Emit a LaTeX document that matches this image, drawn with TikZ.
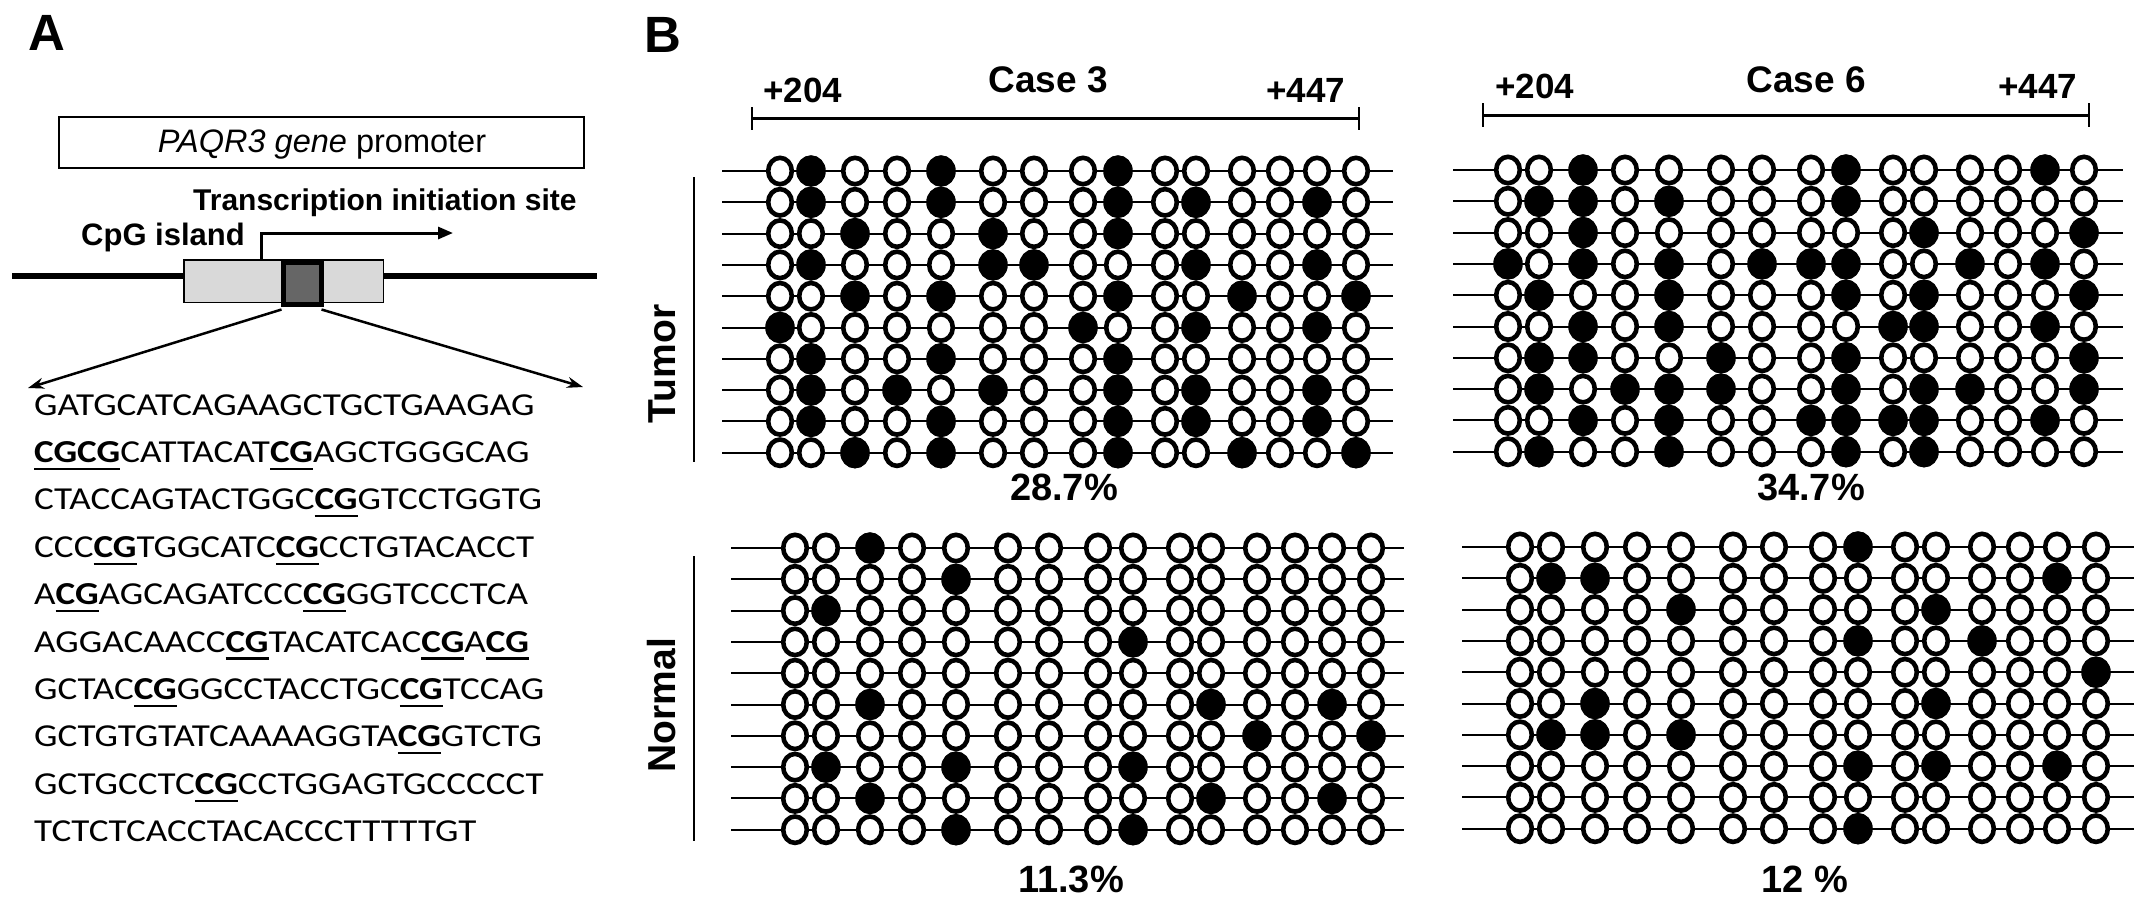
\documentclass[tikz,border=0pt]{standalone}
\usepackage{fontspec}
\setmainfont{Liberation Sans}
\newfontfamily\seqfont[FakeStretch=1.16]{Carlito}
\usetikzlibrary{arrows.meta}

\newcommand\cgu[1]{\setbox0\hbox{\bfseries #1}\rlap{\rule[-7.5pt]{\wd0}{2.2pt}}\box0}
\newcommand\colpos{{0,31,75,117,161,213,254,303,338,385,416,462,500,537,576}}
% #1 x of first column, #2 y of first row, #3 line left, #4 line right, #5 rows
\newcommand\methpanel[5]{%
  \foreach \r/\fl in {#5} {
    \pgfmathsetmacro\yy{#2+31.3*\r}
    \draw[rowline] (#3,\yy) -- (#4,\yy);
    \foreach \c in {0,31,75,117,161,213,254,303,338,385,416,462,500,537,576} {
      \draw[oc] (#1+\c,\yy) ellipse [x radius=11.8pt, y radius=13.2pt];
    }
    \foreach \f in \fl {
      \ifnum\f>0
        \pgfmathsetmacro\cx{\colpos[\f-1]}
        \draw[fc] (#1+\cx,\yy) ellipse [x radius=12.5pt, y radius=13.4pt];
      \fi
    }
  }%
}

\begin{document}
\begin{tikzpicture}[x=1pt,y=-1pt,
  rowline/.style={line width=2pt, draw=black},
  oc/.style={line width=4.6pt, draw=black, fill=white},
  fc/.style={line width=4.6pt, draw=black, fill=black},
  panellab/.style={anchor=base west, inner sep=0pt, font=\bfseries\fontsize{51}{60}\selectfont},
  casetxt/.style={anchor=base, inner sep=0pt, font=\bfseries\fontsize{37}{44}\selectfont},
  postxt/.style={anchor=base west, inner sep=0pt, font=\bfseries\fontsize{35}{42}\selectfont},
  pcttxt/.style={anchor=base, inner sep=0pt, font=\bfseries\fontsize{38}{45}\selectfont},
  grptxt/.style={rotate=90, inner sep=0pt, font=\bfseries\fontsize{39}{46}\selectfont},
  seqtxt/.style={anchor=base west, inner sep=0pt, font=\seqfont\fontsize{32}{38}\selectfont},
  bar/.style={line width=3pt, draw=black},
  tick/.style={line width=2.5pt, draw=black},
  grpline/.style={line width=2.5pt, draw=black},
]
\useasboundingbox (0,0) rectangle (2150,914);
\fill[white] (0,0) rectangle (2150,914);

% ---------------- Panel A ----------------
\node[panellab] (labA) at (28,50) {A};
\node[draw=black, line width=2pt, minimum width=525pt, minimum height=51pt, inner sep=0pt, outer sep=0pt] (promo) at (321.5,142.5) {};
\node[anchor=base, inner sep=0pt, font=\fontsize{32.5}{38}\selectfont] (promotxt) at (322,152) {\textit{PAQR3 gene} promoter};

\node[anchor=base west, inner sep=0pt, font=\bfseries\fontsize{30}{36}\selectfont] (tsstxt) at (193,210) {Transcription initiation site};
\node[anchor=base west, inner sep=0pt, font=\bfseries\fontsize{31}{37}\selectfont] (cpgtxt) at (81,245) {CpG island};

\coordinate (dnaL) at (12,276);
\coordinate (dnaR) at (597,276);
\draw[line width=6pt] (dnaL) -- (dnaR);
\node[draw=black, line width=1.5pt, fill=black!15, minimum width=199.5pt, minimum height=42.5pt, inner sep=0pt, outer sep=0pt] (cpg) at (283.5,281) {};
\node[draw=black, line width=5pt, fill=black!60, minimum width=38pt, minimum height=42pt, inner sep=0pt, outer sep=0pt] (dk) at (302.5,283.5) {};

\coordinate (tssA) at (261,259);
\coordinate (tssB) at (453,233);
\draw[line width=3pt, -{Triangle[length=15pt,width=12pt]}] (tssA) |- (tssB);

\coordinate (sL) at (28,388);
\coordinate (sR) at (583,387);
\draw[line width=2.5pt, -{Stealth[length=16pt,width=11pt]}] ([xshift=-2pt,yshift=-5pt]dk.south west) -- (sL);
\draw[line width=2.5pt, -{Stealth[length=16pt,width=11pt]}] ([yshift=-5pt]dk.south east) -- (sR);

\node[seqtxt] (s1) at (34,415) {GATGCATCAGAAGCTGCTGAAGAG};
\node[seqtxt] (s2) at (34,462.4) {\cgu{CGCG}CATTACAT\cgu{CG}AGCTGGGCAG};
\node[seqtxt] (s3) at (34,509.8) {CTACCAGTACTGGC\cgu{CG}GTCCTGGTG};
\node[seqtxt] (s4) at (34,557.2) {CCC\cgu{CG}TGGCATC\cgu{CG}CCTGTACACCT};
\node[seqtxt] (s5) at (34,604.6) {A\cgu{CG}AGCAGATCCC\cgu{CG}GGTCCCTCA};
\node[seqtxt] (s6) at (34,652.0) {AGGACAACC\cgu{CG}TACATCAC\cgu{CG}A\cgu{CG}};
\node[seqtxt] (s7) at (34,699.4) {GCTAC\cgu{CG}GGCCTACCTGC\cgu{CG}TCCAG};
\node[seqtxt] (s8) at (34,746.8) {GCTGTGTATCAAAAGGTA\cgu{CG}GTCTG};
\node[seqtxt] (s9) at (34,794.2) {GCTGCCTC\cgu{CG}CCTGGAGTGCCCCCT};
\node[seqtxt] (s10) at (34,841.6) {TCTCTCACCTACACCCTTTTTGT};

% ---------------- Panel B ----------------
\node[panellab] (labB) at (644,52) {B};

% scale bars
\coordinate (b3L) at (752,118);
\coordinate (b3R) at (1359,118);
\draw[bar] (b3L) -- (b3R);
\draw[tick] ([yshift=11pt]b3L) -- ([yshift=-12pt]b3L);
\draw[tick] ([yshift=11pt]b3R) -- ([yshift=-12pt]b3R);
\coordinate (b6L) at (1483,115);
\coordinate (b6R) at (2089,115);
\draw[bar] (b6L) -- (b6R);
\draw[tick] ([yshift=12pt]b6L) -- ([yshift=-12pt]b6L);
\draw[tick] ([yshift=12pt]b6R) -- ([yshift=-12pt]b6R);

\node[casetxt] (case3) at (1048,92) {Case 3};
\node[casetxt] (case6) at (1806,92) {Case 6};
\node[postxt] (p3a) at (763,102) {+204};
\node[postxt] (p3b) at (1266,102) {+447};
\node[postxt] (p6a) at (1495,98) {+204};
\node[postxt] (p6b) at (1998,98) {+447};

% group labels
\node[grptxt] (tumor) at (662,364) {Tumor};
\node[grptxt] (normal) at (662,705) {Normal};
\coordinate (gT1) at (694,177);
\coordinate (gT2) at (694,462);
\coordinate (gN1) at (694,556);
\coordinate (gN2) at (694,841);
\draw[grpline] (gT1) -- (gT2);
\draw[grpline] (gN1) -- (gN2);

% Case 3 tumor
\methpanel{780}{171}{722}{1393}{0/{2,5,9},1/{2,5,9,11,14},2/{3,6,9},3/{2,6,7,11,14},4/{3,5,9,12,15},5/{1,8,11,14},6/{2,5,9},7/{2,4,6,9,11,14},8/{2,5,9,11,14},9/{3,5,9,12,15}}
% Case 6 tumor
\methpanel{1508}{170}{1453}{2123}{0/{3,9,14},1/{2,3,5,9},2/{3,11,15},3/{1,3,5,7,8,9,12,14},4/{2,5,9,11,15},5/{3,5,10,11,14},6/{2,3,6,9,15},7/{2,4,5,6,9,11,12,15},8/{3,5,8,9,10,11,14},9/{2,5,9,11}}
% Case 3 normal
\methpanel{795}{548}{731}{1404}{0/{3},1/{5},2/{2},3/{9},4/{0},5/{3,11,14},6/{12,15},7/{2,5,9},8/{3,11,14},9/{5,9}}
% Case 6 normal
\methpanel{1520}{547}{1462}{2134}{0/{9},1/{2,3,14},2/{5,11},3/{9,12},4/{15},5/{3,11},6/{2,3,5},7/{9,11,14},8/{0},9/{9}}

\node[pcttxt] (pct1) at (1064,500) {28.7\%};
\node[pcttxt] (pct2) at (1811,500) {34.7\%};
\node[pcttxt] (pct3) at (1071,892) {11.3\%};
\node[pcttxt] (pct4) at (1805,892) {12 \%};
\end{tikzpicture}
\end{document}
